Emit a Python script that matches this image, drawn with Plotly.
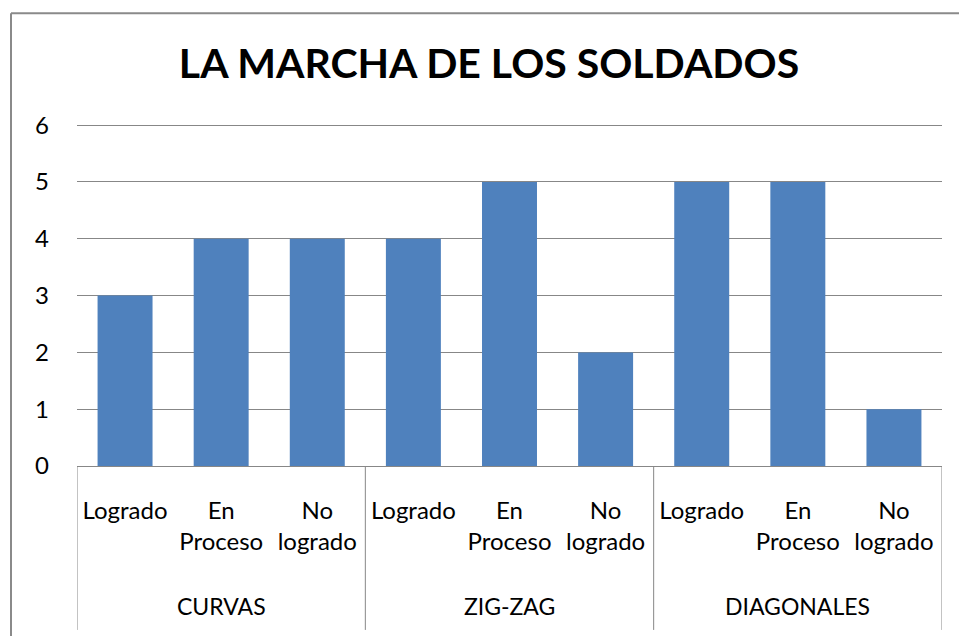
import plotly.graph_objects as go

groups = ["CURVAS", "ZIG-ZAG", "DIAGONALES"]
levels = ["Logrado", "En<br>Proceso", "No<br>logrado"]
values = [3, 4, 4, 4, 5, 2, 5, 5, 1]
title_text = "LA MARCHA DE LOS SOLDADOS"
y_ticks = [0, 1, 2, 3, 4, 5, 6]

n = len(groups) * len(levels)
xs = list(range(n))
tick_text = [lv for g in groups for lv in levels]

FONT = "Lato"
GRAY = "#878787"

OFF = 0  # body margin removed in post_script
W, H = 959 - OFF, 636 - OFF
L, R, T, B = 77 - OFF, 942 - OFF, 125 - OFF, 466 - OFF
pw, ph = R - L, B - T
YMAX = 6.02
T = B - ph * YMAX / 6  # keep 6 at same pixel while range slightly above
ph_full = B - T

fig = go.Figure()
fig.add_trace(go.Bar(x=xs, y=values, marker=dict(color="#4F81BD", line=dict(width=0)),
                     hoverinfo="skip"))

shapes = []
for i in range(len(groups) + 1):
    xv = -0.5 + i * len(levels)
    shapes.append(dict(type="line", xref="x", yref="paper", x0=xv, x1=xv,
                       y0=0, y1=-(630 - OFF - B) / ph_full, line=dict(color=GRAY, width=1)))
# chart border: only left and top edges are visible in the frame
bx0 = (11 - OFF - L) / pw
bx1 = (W + 5 - L) / pw
by1 = (B - (13 - OFF)) / ph_full
by0 = (B - (H + 5)) / ph_full
shapes.append(dict(type="line", xref="paper", yref="paper", x0=bx0, x1=bx0, y0=by0, y1=by1,
                   line=dict(color="#8a8a8a", width=2), layer="above"))
shapes.append(dict(type="line", xref="paper", yref="paper", x0=bx0, x1=bx1, y0=by1, y1=by1,
                   line=dict(color="#8a8a8a", width=2), layer="above"))

annotations = []
for gi, g in enumerate(groups):
    annotations.append(dict(x=gi * len(levels) + 1, xref="x",
                            y=(B - (606 - OFF)) / ph_full, yref="paper",
                            text=g, showarrow=False, xanchor="center", yanchor="middle",
                            font=dict(family=FONT, size=23, color="#000")))

fig.update_layout(
    width=W, height=H,
    margin=dict(l=L, r=W - R, t=T, b=H - B, pad=0),
    paper_bgcolor="white", plot_bgcolor="white",
    showlegend=False,
    bargap=0.428,
    title=dict(text="<b>" + title_text + "</b>", x=(489 - OFF) / W, xanchor="center",
               y=1 - (64 - OFF) / H, yanchor="middle", yref="container",
               font=dict(family=FONT, size=41, color="#000")),
    xaxis=dict(range=[-0.5, n - 0.5], tickmode="array", tickvals=xs, ticktext=tick_text,
               showgrid=False, zeroline=False, showline=True, linecolor=GRAY, linewidth=1,
               ticks="", tickfont=dict(family=FONT, size=24, color="#000"),
               ticklabelstandoff=23, fixedrange=True),
    yaxis=dict(range=[0, YMAX], tickmode="array", tickvals=y_ticks,
               showgrid=True, gridcolor=GRAY, gridwidth=1, zeroline=False, showline=False,
               ticks="", tickfont=dict(family=FONT, size=24, color="#000"),
               ticklabelstandoff=27, fixedrange=True),
    shapes=shapes, annotations=annotations,
)

fig.write_html("out.html",
               config={"displayModeBar": False, "staticPlot": False},
               post_script="document.body.style.margin='0';"
                           "document.documentElement.style.overflow='hidden';"
                           "document.body.style.overflow='hidden';")
